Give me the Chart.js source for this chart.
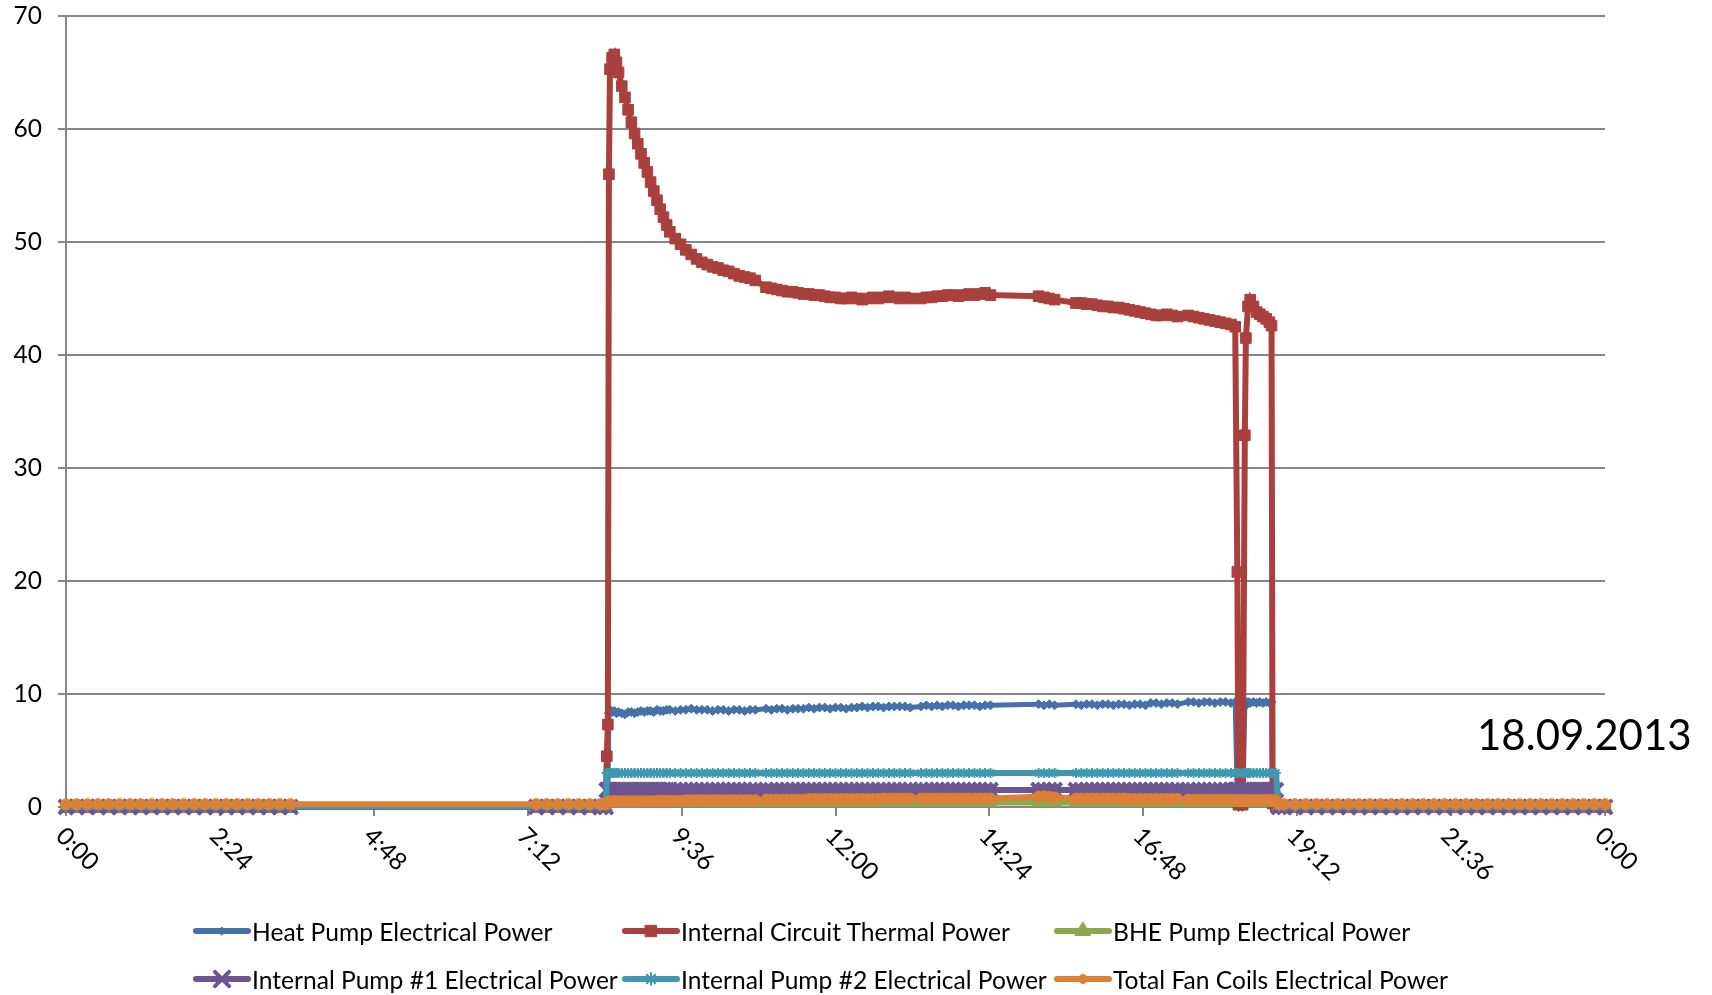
<!DOCTYPE html>
<html>
<head>
<meta charset="utf-8">
<title>Heat pump power 18.09.2013</title>
<script src="https://cdn.jsdelivr.net/npm/chart.js@4.4.1/dist/chart.umd.min.js"></script>
<style>
  html, body { margin: 0; padding: 0; background: #fff; }
  #wrap { position: relative; width: 1712px; height: 995px; overflow: hidden; }
  #powerChart { position: absolute; left: 0; top: 0; }
  .day-label { position: absolute; left: 1477px; top: 709px; font: 42px Lato, sans-serif; color: #000; }
  .legend-item { position: absolute; display: flex; align-items: center; height: 30px; font: 24.6px Lato, sans-serif; color: #000; white-space: nowrap; }
  .legend-item canvas { margin-right: 1px; }
</style>
</head>
<body>
<div id="wrap">
  <canvas id="powerChart" width="1712" height="995"></canvas>
  <div class="day-label">18.09.2013</div>
  <div id="legend"></div>
</div>
<script>
// sample times of the day (24:00 closes the axis)
const times = [
  '0:00','0:10','0:20','0:30','0:40','0:50','1:00','1:10','1:20','1:30','1:40','1:50','2:00','2:10','2:20','2:30','2:40','2:50','3:00','3:10','3:20','3:30',
  '7:20','7:30','7:40','7:50','8:00','8:10','8:20','8:25',
  '8:26','8:27','8:28','8:29','8:31',
  '8:33','8:35','8:37','8:40','8:43','8:46','8:49','8:52','8:55','8:58','9:01','9:04','9:07','9:10','9:13','9:16','9:19','9:22','9:25',
  '9:30','9:35','9:40','9:45','9:50','9:55','10:00','10:05','10:10','10:15','10:20','10:25','10:30','10:35','10:40','10:45',
  '10:55','11:00','11:05','11:10','11:15','11:20','11:25','11:30','11:35','11:40','11:45','11:50','11:55','12:00','12:05','12:10','12:15','12:20','12:25','12:30','12:35','12:40','12:45','12:50','12:55','13:00','13:05','13:10',
  '13:20','13:25','13:30','13:35','13:40','13:45','13:50','13:55','14:00','14:05','14:10','14:15','14:20','14:25',
  '15:10','15:15','15:20','15:25',
  '15:45','15:50','15:55','16:00','16:05','16:10','16:15','16:20','16:25','16:30','16:35','16:40','16:45','16:50','16:55','17:00','17:05','17:10','17:15','17:20',
  '17:30','17:35','17:40','17:45','17:50','17:55','18:00','18:05','18:10',
  '18:14','18:16','18:17','18:21','18:23','18:24','18:26','18:28','18:31','18:34','18:37','18:40','18:43','18:46','18:48','18:49','18:52',
  '18:55','19:00','19:10','19:20','19:30','19:40','19:50','20:00','20:10','20:20','20:30','20:40','20:50','21:00','21:10','21:20','21:30','21:40','21:50','22:00','22:10','22:20','22:30','22:40','22:50','23:00','23:10','23:20','23:30','23:40','23:50','24:00'
];

const heatPumpPower = [
  0,0,0,0,0,0,0,0,0,0,0,0,0,0,0,0,0,0,0,0,0,0,
  0,0,0,0,0,0,0,0,
  0,0.3,8.3,8.6,8.4,
  8.5,8.3,8.4,8.3,8.2,8.4,8.4,8.3,8.4,8.5,8.4,8.5,8.5,8.4,8.6,8.5,8.5,8.6,8.6,
  8.5,8.6,8.6,8.7,8.6,8.6,8.6,8.5,8.6,8.6,8.5,8.6,8.6,8.5,8.6,8.6,
  8.7,8.6,8.7,8.7,8.6,8.7,8.7,8.7,8.8,8.7,8.8,8.8,8.7,8.8,8.8,8.7,8.8,8.8,8.9,8.8,8.9,8.9,8.8,8.9,8.9,8.9,8.9,8.8,
  8.9,9.0,8.9,9.0,8.9,9.0,9.0,8.9,9.0,9.0,9.0,8.9,9.0,9.0,
  9.1,9.0,9.1,9.0,
  9.1,9.0,9.1,9.1,9.0,9.1,9.1,9.0,9.1,9.1,9.0,9.1,9.1,9.0,9.2,9.2,9.1,9.2,9.2,9.1,
  9.3,9.3,9.2,9.3,9.3,9.2,9.3,9.3,9.2,
  9.3,0.3,0,0,8.9,9.2,9.3,9.2,9.3,9.2,9.3,9.2,9.3,9.2,9.3,0,0,
  0,0,0,0,0,0,0,0,0,0,0,0,0,0,0,0,0,0,0,0,0,0,0,0,0,0,0,0,0,0,0,0
];

const circuitThermalPower = [
  0,0,0,0,0,0,0,0,0,0,0,0,0,0,0,0,0,0,0,0,0,0,
  0,0,0,0,0,0,0,0,
  4.5,7.3,56.0,65.3,66.3,
  66.6,65.9,65.0,63.8,62.8,61.7,60.6,59.6,58.7,57.8,57.0,56.2,55.3,54.5,53.7,52.9,52.2,51.5,50.9,
  50.3,49.8,49.3,48.9,48.5,48.2,48.0,47.8,47.7,47.5,47.4,47.2,47.0,46.9,46.8,46.6,
  46.0,45.9,45.8,45.7,45.6,45.6,45.5,45.4,45.4,45.3,45.3,45.2,45.1,45.1,45.0,45.0,45.1,45.0,44.9,45.0,45.1,45.0,45.1,45.2,45.1,45.0,45.1,45.0,
  45.0,45.1,45.1,45.2,45.2,45.3,45.3,45.2,45.3,45.4,45.3,45.4,45.5,45.3,
  45.2,45.1,45.0,44.9,
  44.6,44.6,44.5,44.5,44.4,44.3,44.3,44.2,44.2,44.1,44.0,43.9,43.8,43.7,43.6,43.5,43.5,43.6,43.5,43.4,
  43.5,43.4,43.3,43.2,43.1,43.0,42.9,42.8,42.7,
  42.5,20.8,0.2,0.2,32.9,41.5,44.3,44.9,44.3,43.8,43.6,43.4,43.2,42.9,42.6,0.3,0,
  0,0,0,0,0,0,0,0,0,0,0,0,0,0,0,0,0,0,0,0,0,0,0,0,0,0,0,0,0,0,0,0
];

const bhePumpPower = [
  0,0,0,0,0,0,0,0,0,0,0,0,0,0,0,0,0,0,0,0,0,0,
  0,0,0,0,0,0,0,0,
  0.4,0.4,0.4,0.4,0.4,
  0.4,0.4,0.4,0.4,0.4,0.4,0.4,0.4,0.4,0.4,0.4,0.4,0.4,0.4,0.4,0.4,0.4,0.4,0.4,
  0.4,0.4,0.4,0.4,0.4,0.4,0.4,0.4,0.4,0.4,0.4,0.4,0.4,0.4,0.4,0.4,
  0.4,0.4,0.4,0.4,0.4,0.4,0.4,0.4,0.4,0.4,0.4,0.4,0.4,0.4,0.4,0.4,0.4,0.4,0.4,0.4,0.4,0.4,0.4,0.4,0.4,0.4,0.4,0.4,
  0.4,0.4,0.4,0.4,0.4,0.4,0.4,0.4,0.4,0.4,0.4,0.4,0.4,0.4,
  0.4,0.4,0.4,0.4,
  0.4,0.4,0.4,0.4,0.4,0.4,0.4,0.4,0.4,0.4,0.4,0.4,0.4,0.4,0.4,0.4,0.4,0.4,0.4,0.4,
  0.4,0.4,0.4,0.4,0.4,0.4,0.4,0.4,0.4,
  0.4,0.4,0.4,0.4,0.4,0.4,0.4,0.4,0.4,0.4,0.4,0.4,0.4,0.4,0.4,0.4,0.4,
  0,0,0,0,0,0,0,0,0,0,0,0,0,0,0,0,0,0,0,0,0,0,0,0,0,0,0,0,0,0,0,0
];

const pump1Power = [
  0,0,0,0,0,0,0,0,0,0,0,0,0,0,0,0,0,0,0,0,0,0,
  0,0,0,0,0,0,0,0,
  1.5,1.5,1.5,1.5,1.5,
  1.5,1.5,1.5,1.5,1.5,1.5,1.5,1.5,1.5,1.5,1.5,1.5,1.5,1.5,1.5,1.5,1.5,1.5,1.5,
  1.5,1.5,1.5,1.5,1.5,1.5,1.5,1.5,1.5,1.5,1.5,1.5,1.5,1.5,1.5,1.5,
  1.5,1.5,1.5,1.5,1.5,1.5,1.5,1.5,1.5,1.5,1.5,1.5,1.5,1.5,1.5,1.5,1.5,1.5,1.5,1.5,1.5,1.5,1.5,1.5,1.5,1.5,1.5,1.5,
  1.5,1.5,1.5,1.5,1.5,1.5,1.5,1.5,1.5,1.5,1.5,1.5,1.5,1.5,
  1.5,1.5,1.5,1.5,
  1.5,1.5,1.5,1.5,1.5,1.5,1.5,1.5,1.5,1.5,1.5,1.5,1.5,1.5,1.5,1.5,1.5,1.5,1.5,1.5,
  1.5,1.5,1.5,1.5,1.5,1.5,1.5,1.5,1.5,
  1.5,1.5,1.5,1.5,1.5,1.5,1.5,1.5,1.5,1.5,1.5,1.5,1.5,1.5,1.5,1.5,1.5,
  0,0,0,0,0,0,0,0,0,0,0,0,0,0,0,0,0,0,0,0,0,0,0,0,0,0,0,0,0,0,0,0
];

const pump2Power = [
  0.05,0.05,0.05,0.05,0.05,0.05,0.05,0.05,0.05,0.05,0.05,0.05,0.05,0.05,0.05,0.05,0.05,0.05,0.05,0.05,0.05,0.05,
  0.05,0.05,0.05,0.05,0.05,0.05,0.05,0.05,
  3.0,3.0,3.0,3.0,3.0,
  3.0,3.0,3.0,3.0,3.0,3.0,3.0,3.0,3.0,3.0,3.0,3.0,3.0,3.0,3.0,3.0,3.0,3.0,3.0,
  3.0,3.0,3.0,3.0,3.0,3.0,3.0,3.0,3.0,3.0,3.0,3.0,3.0,3.0,3.0,3.0,
  3.0,3.0,3.0,3.0,3.0,3.0,3.0,3.0,3.0,3.0,3.0,3.0,3.0,3.0,3.0,3.0,3.0,3.0,3.0,3.0,3.0,3.0,3.0,3.0,3.0,3.0,3.0,3.0,
  3.0,3.0,3.0,3.0,3.0,3.0,3.0,3.0,3.0,3.0,3.0,3.0,3.0,3.0,
  3.0,3.0,3.0,3.0,
  3.0,3.0,3.0,3.0,3.0,3.0,3.0,3.0,3.0,3.0,3.0,3.0,3.0,3.0,3.0,3.0,3.0,3.0,3.0,3.0,
  3.0,3.0,3.0,3.0,3.0,3.0,3.0,3.0,3.0,
  3.0,3.0,3.0,3.0,3.0,3.0,3.0,3.0,3.0,3.0,3.0,3.0,3.0,3.0,3.0,3.0,3.0,
  0.05,0.05,0.05,0.05,0.05,0.05,0.05,0.05,0.05,0.05,0.05,0.05,0.05,0.05,0.05,0.05,0.05,0.05,0.05,0.05,0.05,0.05,0.05,0.05,0.05,0.05,0.05,0.05,0.05,0.05,0.05,0.05
];

const fanCoilsPower = [
  0.25,0.25,0.25,0.25,0.25,0.25,0.25,0.25,0.25,0.25,0.25,0.25,0.25,0.25,0.25,0.25,0.25,0.25,0.25,0.25,0.25,0.25,
  0.25,0.25,0.25,0.25,0.25,0.25,0.25,0.25,
  0.4,0.45,0.45,0.5,0.5,
  0.5,0.5,0.5,0.5,0.5,0.5,0.5,0.5,0.5,0.5,0.5,0.5,0.5,0.5,0.55,0.55,0.55,0.55,0.55,
  0.55,0.55,0.6,0.6,0.6,0.6,0.6,0.6,0.6,0.6,0.6,0.6,0.6,0.6,0.6,0.6,
  0.65,0.65,0.65,0.65,0.65,0.65,0.65,0.65,0.7,0.7,0.7,0.7,0.7,0.7,0.7,0.7,0.7,0.7,0.7,0.7,0.7,0.7,0.75,0.75,0.75,0.75,0.75,0.75,
  0.75,0.75,0.75,0.75,0.75,0.75,0.75,0.75,0.75,0.75,0.75,0.75,0.75,0.75,
  0.9,0.95,0.9,0.85,
  0.75,0.75,0.75,0.75,0.75,0.75,0.75,0.75,0.75,0.75,0.7,0.7,0.7,0.7,0.7,0.7,0.7,0.7,0.7,0.7,
  0.65,0.65,0.65,0.65,0.65,0.65,0.65,0.65,0.65,
  0.6,0.6,0.6,0.6,0.6,0.6,0.6,0.6,0.6,0.6,0.6,0.6,0.6,0.6,0.6,0.6,0.6,
  0.25,0.25,0.25,0.25,0.25,0.25,0.25,0.25,0.25,0.25,0.25,0.25,0.25,0.25,0.25,0.25,0.25,0.25,0.25,0.25,0.25,0.25,0.25,0.25,0.25,0.25,0.25,0.25,0.25,0.25,0.25,0.25
];

const seriesNames = [
  'Heat Pump Electrical Power',
  'Internal Circuit Thermal Power',
  'BHE Pump Electrical Power',
  'Internal Pump #1 Electrical Power',
  'Internal Pump #2 Electrical Power',
  'Total Fan Coils Electrical Power'
];
const tickLabels = ['0:00','2:24','4:48','7:12','9:36','12:00','14:24','16:48','19:12','21:36','0:00'];
const yTicks = [0, 10, 20, 30, 40, 50, 60, 70];
const tickStep = 144; // minutes between x labels

const FONT = 'Lato, sans-serif';
const AXIS_GREY = '#868686';

function toMinutes(t) {
  const parts = t.split(':').map(Number);
  return parts[0] * 60 + parts[1];
}
const xValues = times.map(toMinutes);
function points(values) {
  return values.map((v, i) => ({ x: xValues[i], y: v }));
}

// look of each series: colour, marker, marker size (chart / legend)
const seriesStyles = [
  { color: '#4471A9', style: 'rectRot', radius: 4.5, legendRadius: 4, border: 1, width: 5 },
  { color: '#A9403D', style: 'rect', radius: 7.5, legendRadius: 8, border: 1, width: 6 },
  { color: '#8BA84C', style: 'triangle', radius: 8, legendRadius: 9, border: 1, width: 6 },
  { color: '#6C5590', style: 'crossRot', radius: 10, legendRadius: 10, border: 4, width: 6 },
  { color: '#3F98B0', style: 'star', radius: 5, legendRadius: 6, border: 2, width: 6 },
  { color: '#DB8035', style: 'circle', radius: 5.5, legendRadius: 4.5, border: 1, width: 6 }
];
const seriesValues = [heatPumpPower, circuitThermalPower, bhePumpPower, pump1Power, pump2Power, fanCoilsPower];

const datasets = seriesValues.map((vals, i) => {
  const s = seriesStyles[i];
  return {
    label: seriesNames[i],
    data: points(vals),
    borderColor: s.color,
    backgroundColor: s.color,
    borderWidth: s.width,
    pointStyle: s.style,
    pointRadius: s.radius,
    pointHoverRadius: s.radius,
    pointBackgroundColor: s.color,
    pointBorderColor: s.color,
    pointBorderWidth: s.border,
    tension: 0,
    clip: false,
    order: seriesValues.length - i
  };
});

// rotated time labels under the x axis
const timeTickLabels = {
  id: 'timeTickLabels',
  afterDraw(chart) {
    const ctx = chart.ctx;
    const x = chart.scales.x;
    ctx.save();
    ctx.font = '24.5px ' + FONT;
    ctx.fillStyle = '#000';
    ctx.textAlign = 'left';
    ctx.textBaseline = 'middle';
    tickLabels.forEach((label, i) => {
      const px = x.getPixelForValue(i * tickStep);
      ctx.save();
      ctx.translate(px - 6, x.top + 25);
      ctx.rotate(Math.PI / 4);
      ctx.fillText(label, 0, 0);
      ctx.restore();
    });
    ctx.restore();
  }
};

new Chart(document.getElementById('powerChart'), {
  type: 'line',
  data: { datasets: datasets },
  options: {
    responsive: false,
    animation: false,
    events: [],
    layout: { padding: { top: 16, right: 107, bottom: 0, left: 0 } },
    plugins: { legend: { display: false }, tooltip: { enabled: false } },
    scales: {
      x: {
        type: 'linear',
        min: 0,
        max: 1440,
        afterBuildTicks(scale) {
          scale.ticks = tickLabels.map((l, i) => ({ value: i * tickStep }));
        },
        afterFit(scale) { scale.height = 188; },
        ticks: { display: false },
        grid: { drawOnChartArea: false, drawTicks: true, tickLength: 9, color: AXIS_GREY, lineWidth: 2 },
        border: { display: true, color: AXIS_GREY, width: 2 }
      },
      y: {
        min: 0,
        max: 70,
        afterBuildTicks(scale) {
          scale.ticks = yTicks.map(v => ({ value: v }));
        },
        afterFit(scale) {
          scale.width = 66;
          scale.paddingTop = 0;
          scale.paddingBottom = 0;
        },
        ticks: { color: '#000', font: { family: FONT, size: 24.5 }, padding: 16 },
        grid: { color: AXIS_GREY, lineWidth: 2, tickLength: 8 },
        border: { display: true, color: AXIS_GREY, width: 2 }
      }
    }
  },
  plugins: [timeTickLabels]
});

// legend: three columns, two rows
const legendSlots = [[193, 931], [622, 931], [1054, 931], [193, 979], [622, 979], [1054, 979]];
const legendBox = document.getElementById('legend');
datasets.forEach((ds, i) => {
  const s = seriesStyles[i];
  const item = document.createElement('div');
  item.className = 'legend-item';
  item.style.left = legendSlots[i][0] + 'px';
  item.style.top = (legendSlots[i][1] - 15) + 'px';
  const sw = document.createElement('canvas');
  sw.width = 58;
  sw.height = 30;
  const c = sw.getContext('2d');
  c.strokeStyle = s.color;
  c.lineWidth = 6;
  c.lineCap = 'round';
  c.beginPath();
  c.moveTo(3, 15);
  c.lineTo(55, 15);
  c.stroke();
  c.fillStyle = s.color;
  c.lineWidth = s.border;
  Chart.helpers.drawPoint(c, { pointStyle: s.style, radius: s.legendRadius, borderWidth: s.border, rotation: 0 }, 29, 15);
  const text = document.createElement('span');
  text.textContent = ds.label;
  item.appendChild(sw);
  item.appendChild(text);
  legendBox.appendChild(item);
});
</script>
</body>
</html>
